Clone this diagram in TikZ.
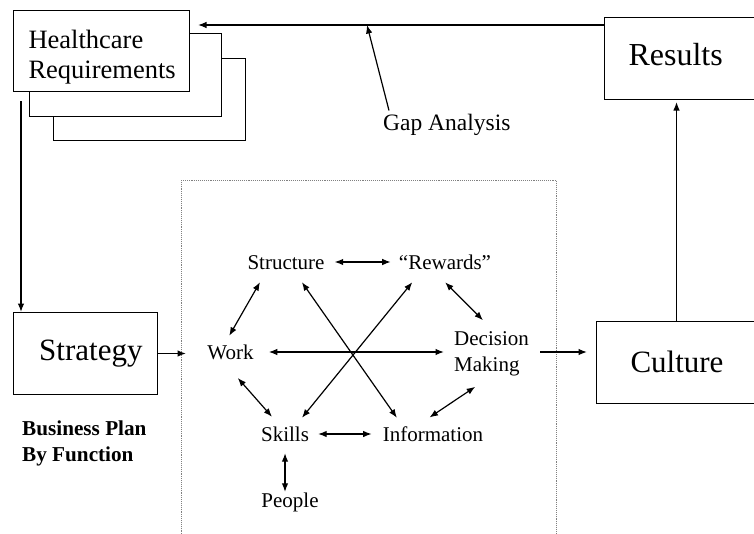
\documentclass[tikz,border=0pt]{standalone}
\usepackage{fontspec}
\setmainfont{Liberation Serif}
\usetikzlibrary{positioning,arrows.meta,calc}

\begin{document}
\begin{tikzpicture}[
    x=1pt, y=-1pt,
    bigbox/.style={rectangle, draw, line width=1pt, fill=white, inner sep=0pt, anchor=north west, font=\fontsize{31pt}{36pt}\selectfont},
    sheet/.style={rectangle, draw, line width=1pt, fill=white, inner sep=0pt, anchor=north west, minimum width=192pt},
    factor/.style={inner sep=3pt, text height=17pt, text depth=3pt, font=\fontsize{21pt}{26pt}\selectfont},
    arrow/.style={-{Latex[length=8.5pt,width=6.5pt]}, line width=1.2pt},
    biarrow/.style={{Latex[length=8.5pt,width=6.5pt]}-{Latex[length=8.5pt,width=6.5pt]}, line width=1.2pt},
    dotbox/.style={draw=gray, densely dotted, line width=0.9pt, anchor=north west, inner sep=0pt}
]
\useasboundingbox (0,0) rectangle (754,533);

% Requirements stack
\node[sheet, minimum height=82pt] (sheet3) at (53,58) {};
\node[sheet, minimum height=83pt] (sheet2) at (29,33) {};
\node[bigbox, font=\fontsize{26.5pt}{30pt}\selectfont, text width=146pt, align=left, inner xsep=15pt, inner ysep=8pt, text height=30pt, text depth=35pt] (hc) at (13,10) {Healthcare\\Requirements};

% Outer boxes
\node[bigbox, font=\fontsize{32pt}{36pt}\selectfont, text width=112pt, align=left, inner xsep=24pt, minimum height=82pt, text depth=8pt] (results) at (604,17) {Results};
\node[bigbox, text width=114pt, align=right, inner xsep=15pt, minimum height=82pt] (strategy) at (13,312) {Strategy};
\node[bigbox, text width=100pt, align=left, inner xsep=34pt, minimum height=81.5pt] (culture) at (596,321) {Culture};

% Labels
\node[anchor=base west, inner sep=3pt, font=\fontsize{23.5pt}{28pt}\selectfont] (gap) at (380,130) {Gap Analysis};
\coordinate (gaptip) at (367,25);
\node[anchor=north west, inner sep=0pt, align=left, font=\fontsize{21.2pt}{26pt}\selectfont\bfseries] (plan) at (22,420.7) {Business Plan\\By Function};

% Organisation frame
\node[dotbox, minimum width=375pt, minimum height=400pt] (frame) at (181,180) {};

% Design factors
\node[factor] (struct) at (286,262) {Structure};
\node[factor] (rewards) at (445,262) {“Rewards”};
\node[factor] (work) at (230.5,352) {Work};
\node[anchor=north west, inner sep=3pt, align=left, font=\fontsize{21pt}{26pt}\selectfont] (decision) at (451,328.7) {Decision\\Making};
\node[factor] (skills) at (285,434) {Skills};
\node[factor] (info) at (433,434) {Information};
\node[factor] (people) at (290,500) {People};

% Outer arrows
\draw[arrow, shorten >=8pt] ([yshift=-8pt]results.north west) -- ([yshift=-8pt]results.north west -| hc.east);
\draw[arrow] ([xshift=9pt]gap.north west) -- (gaptip);
\draw[arrow, shorten <=9pt] ([xshift=8pt]hc.south west) -- ([xshift=8pt]strategy.north west);
\draw[arrow, shorten >=-5pt] (strategy.east) -- (strategy.east -| frame.west);
\draw[arrow, shorten <=8pt, shorten >=9pt] (work.east -| decision.east) -- (work.east -| culture.west);
\draw[arrow, shorten >=2pt] ([xshift=-4pt]culture.north) -- ([xshift=-4pt]culture.north |- results.south);

% Factor arrows
\draw[biarrow, shorten <=7pt, shorten >=5pt] (struct.east) -- (rewards.west);
\draw[biarrow, shorten <=8pt, shorten >=3.5pt] ([xshift=-22pt]struct.south) -- ([xshift=-3pt]work.north);
\draw[biarrow, shorten <=10pt, shorten >=12pt] ([xshift=-7pt]rewards.south) -- (decision.north);
\draw[biarrow, shorten <=12pt, shorten >=7pt] (work.east) -- (work.east -| decision.west);
\draw[biarrow, shorten <=8.5pt, shorten >=3.7pt] ([xshift=11pt]struct.south) -- ([xshift=-34pt]info.north);
\draw[biarrow, shorten <=9pt, shorten >=3.9pt] ([xshift=-27pt]rewards.south) -- ([xshift=14.5pt]skills.north);
\draw[biarrow, shorten <=17pt, shorten >=5.3pt] ([xshift=-4pt]work.south) -- ([xshift=-9.5pt]skills.north);
\draw[biarrow, shorten <=13pt, shorten >=6pt] ([xshift=-5.5pt]decision.south) -- ([xshift=-8.5pt]info.north);
\draw[biarrow, shorten <=6pt, shorten >=8pt] (skills.east) -- (info.west);
\draw[biarrow, shorten <=6pt, shorten >=-5pt] (skills.south) -- (skills.south |- people.north);

\end{tikzpicture}
\end{document}
